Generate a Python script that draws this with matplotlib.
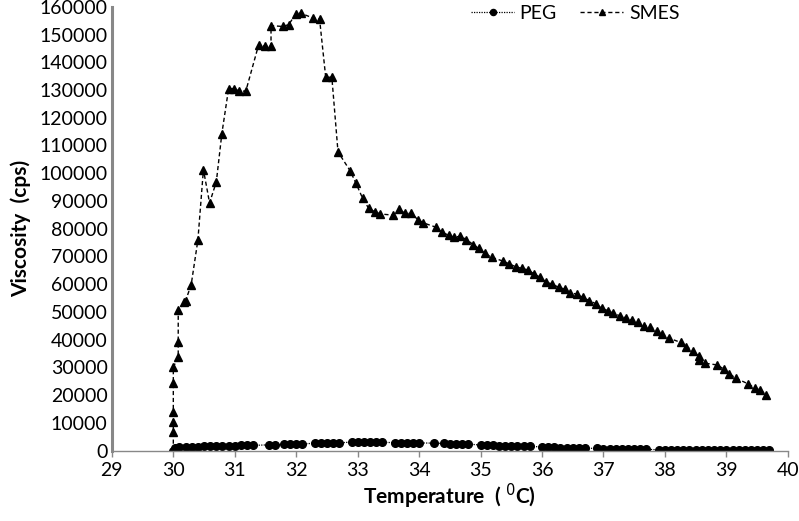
import matplotlib
matplotlib.use("Agg")
import matplotlib.pyplot as plt

plt.rcParams['font.family'] = ['Lato', 'DejaVu Sans']

# SMES viscosity (cps) vs temperature (C)
smes_t = [30.0, 30.0, 30.0, 30.0, 30.0, 30.0, 30.08, 30.08, 30.08, 30.18, 30.2,
          30.29, 30.4, 30.49, 30.59, 30.7, 30.79, 30.9, 30.99, 31.07, 31.18,
          31.39, 31.49, 31.59, 31.59, 31.78, 31.88, 31.99, 32.07, 32.28, 32.38,
          32.48, 32.58, 32.68, 32.88, 32.97, 33.08, 33.18, 33.28, 33.37, 33.58,
          33.68, 33.77, 33.87, 33.98, 34.07, 34.28, 34.37, 34.48, 34.57, 34.67,
          34.77, 34.88, 34.97, 35.07, 35.18, 35.37, 35.47, 35.57, 35.67, 35.78,
          35.87, 35.97, 36.07, 36.16, 36.27, 36.37, 36.46, 36.57, 36.66, 36.77,
          36.88, 36.97, 37.07, 37.16, 37.27, 37.36, 37.46, 37.56, 37.66, 37.76,
          37.87, 37.96, 38.07, 38.26, 38.35, 38.46, 38.55, 38.55, 38.66, 38.85,
          38.96, 39.05, 39.15, 39.35, 39.46, 39.55, 39.65]
smes_v = [0, 6600, 10200, 14100, 24300, 30100, 33700, 39000, 50700, 53500, 54100,
          59700, 75900, 101300, 89300, 96900, 114300, 130500, 130500, 129600, 129600,
          146400, 145700, 145800, 153200, 152900, 153600, 157400, 157700, 155900, 155600,
          134600, 134600, 107700, 100800, 96500, 91000, 87300, 86100, 85300, 84900,
          87000, 85500, 85500, 83300, 82100, 80500, 78700, 77700, 76900, 77300,
          76100, 74300, 72900, 71100, 69700, 68300, 67300, 66300, 65700, 65100,
          63700, 62500, 60700, 60100, 58900, 58200, 56900, 56400, 55300, 54100,
          52900, 51300, 50500, 49500, 48600, 47900, 47100, 46200, 45000, 44700,
          43300, 42100, 40500, 39000, 37500, 36000, 34200, 32700, 31500, 30900,
          29400, 27700, 26200, 24100, 22600, 21900, 20100]

# PEG viscosity (cps) vs temperature (C)
peg_t = [30.0, 30.02, 30.1, 30.2, 30.3, 30.4, 30.5, 30.6, 30.7, 30.8, 30.9, 31.0,
         31.1, 31.2, 31.3, 31.55, 31.65, 31.8, 31.9, 32.0, 32.1, 32.3, 32.4, 32.5,
         32.6, 32.7, 32.9, 33.0, 33.1, 33.2, 33.3, 33.4, 33.6, 33.7, 33.8, 33.9,
         34.0, 34.25, 34.4, 34.5, 34.6, 34.7, 34.8, 35.0, 35.1, 35.2, 35.3, 35.4,
         35.5, 35.6, 35.7, 35.8, 36.0, 36.1, 36.2, 36.3, 36.4, 36.5, 36.6, 36.7,
         36.9, 37.0, 37.1, 37.2, 37.3, 37.4, 37.5, 37.6, 37.7, 37.9, 38.0, 38.1,
         38.2, 38.3, 38.4, 38.5, 38.6, 38.7, 38.8, 38.9, 39.0, 39.1, 39.2, 39.3,
         39.4, 39.5, 39.6, 39.7]
peg_v = [0, 1100, 1300, 1400, 1500, 1500, 1600, 1600, 1700, 1700, 1800, 1800,
         1900, 1900, 1900, 2100, 2100, 2300, 2300, 2400, 2400, 2700, 2700, 2800,
         2800, 2800, 3100, 3100, 3100, 3100, 3100, 3000, 2900, 2900, 2900, 2900,
         2800, 2700, 2600, 2500, 2500, 2400, 2400, 2000, 1900, 1900, 1800, 1800,
         1700, 1700, 1600, 1600, 1300, 1200, 1200, 1100, 1100, 1000, 1000, 900,
         800, 700, 700, 600, 600, 600, 500, 500, 500, 300, 300, 300,
         300, 200, 200, 200, 200, 200, 200, 200, 200, 200, 200, 200,
         200, 200, 200, 200]

x_ticks = list(range(29, 41))
y_ticks = list(range(0, 160001, 10000))

fig = plt.figure(figsize=(7.99, 5.21), dpi=100)
ax = fig.add_axes([0.140, 0.135, 0.846, 0.852])

ax.plot(peg_t, peg_v, color='black', linestyle=(0, (1, 1)), linewidth=0.9,
        marker='o', markersize=5.5, label='PEG')
ax.plot(smes_t, smes_v, color='black', linestyle=(0, (3, 2)), linewidth=1.0,
        marker='^', markersize=6, label='SMES')

ax.set_xlim(29, 40)
ax.set_ylim(0, 160000)
ax.set_xticks(x_ticks)
ax.set_yticks(y_ticks)
ax.set_xticklabels([str(t) for t in x_ticks])
ax.set_yticklabels([str(v) for v in y_ticks])

for s in ['top', 'right']:
    ax.spines[s].set_visible(False)
ax.spines['left'].set_color('#888888')
ax.spines['left'].set_linewidth(2.2)
ax.spines['bottom'].set_color('#888888')
ax.spines['bottom'].set_linewidth(1.0)

ax.tick_params(axis='x', direction='out', length=4, width=1, color='#888888',
               labelsize=14, pad=4)
ax.tick_params(axis='y', length=0, labelsize=14, pad=3)

ax.set_xlabel('Temperature  ( $^{0}$C)', fontsize=15, fontweight='bold', labelpad=2)
ax.set_ylabel('Viscosity  (cps)', fontsize=15, fontweight='bold', labelpad=6)

ax.legend(loc='center', bbox_to_anchor=(0.72, 0.975), bbox_transform=fig.transFigure,
          ncol=2, frameon=False, fontsize=14, handlelength=2.2, handletextpad=0.3,
          columnspacing=1.2, markerscale=0.8)

fig.savefig('out.png', dpi=100)
